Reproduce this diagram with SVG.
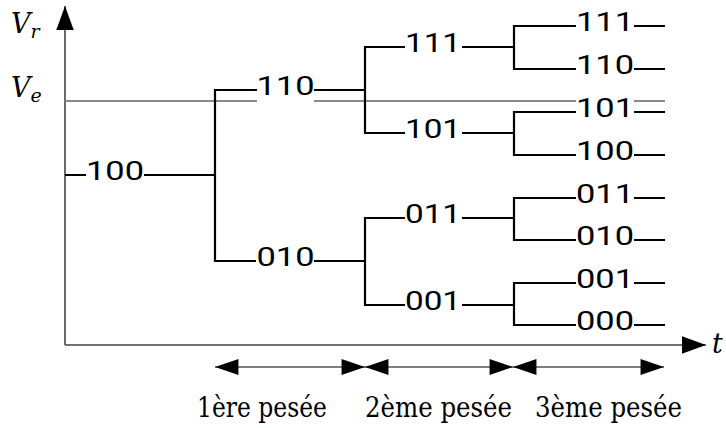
<svg xmlns="http://www.w3.org/2000/svg" width="726" height="428" viewBox="0 0 726 428">
<defs>
<marker id="ah" markerUnits="userSpaceOnUse" markerWidth="24" markerHeight="16" viewBox="0 0 22 15" refX="22" refY="7.5" orient="auto-start-reverse">
<path d="M0,0 L22,7.5 L0,15 z" fill="#000"/>
</marker>
<marker id="axh" markerUnits="userSpaceOnUse" markerWidth="24" markerHeight="18" viewBox="0 0 22 16" refX="22" refY="8" orient="auto">
<path d="M0,0 L22,8 L0,16 z" fill="#000"/>
</marker>
</defs>
<style>
.tree{fill:none;stroke:#000;stroke-width:2.2;stroke-linejoin:miter;stroke-linecap:butt}
.ve{fill:none;stroke:#8a8a8a;stroke-width:2.2}
.axis{fill:none;stroke:#444;stroke-width:1.6}
.dim{fill:none;stroke:#555;stroke-width:1.3}
text{fill:#000}
.d{font-family:Roboto,'Noto Sans','DejaVu Sans',sans-serif;font-size:26px;text-anchor:middle}
.v{font-family:'DejaVu Serif','Liberation Serif',serif;font-style:italic;font-size:27px}
.c{font-family:'DejaVu Serif','Liberation Serif',serif;font-size:27px;text-anchor:middle}
</style>
<rect width="726" height="428" fill="#fff"/>
<g id="axes">
<line class="axis" x1="65" y1="345" x2="65" y2="6" marker-end="url(#axh)"/>
<line class="axis" x1="65" y1="345" x2="706" y2="345" marker-end="url(#axh)"/>
<text class="v" x="11" y="33">V<tspan font-size="19" dy="5">r</tspan></text>
<text class="v" x="11" y="97">V<tspan font-size="19" dy="5">e</tspan></text>
<text class="v" x="712" y="353">t</text>
</g>
<g id="ve-line">
<path class="ve" d="M65,101 H257 M314,101 H576 M634,101 H665"/>
</g>
<g id="connectors">
<path class="tree" d="M65,175 H86 M144,175 H215"/>
<path class="tree" d="M257,90 H215 V261 H256"/>
<path class="tree" d="M314,90 H365 M314,261 H365"/>
<path class="tree" d="M405,47 H365 V133 H405"/>
<path class="tree" d="M405,218 H365 V305 H405"/>
<path class="tree" d="M462,47 H514 M462,133 H514 M462,218 H514 M462,305 H514"/>
<path class="tree" d="M576,26 H514 V69 H576"/>
<path class="tree" d="M576,112 H514 V155 H576"/>
<path class="tree" d="M576,198 H514 V240 H576"/>
<path class="tree" d="M576,283 H514 V325 H576"/>
<path class="tree" d="M634,26 H665 M634,69 H665 M634,112 H665 M634,155 H665 M634,198 H665 M634,240 H665 M634,283 H665 M634,325 H665"/>
<line class="dim" x1="215" y1="367" x2="365" y2="367" marker-start="url(#ah)" marker-end="url(#ah)"/>
<line class="dim" x1="365" y1="367" x2="513" y2="367" marker-start="url(#ah)" marker-end="url(#ah)"/>
<line class="dim" x1="513" y1="367" x2="664" y2="367" marker-start="url(#ah)" marker-end="url(#ah)"/>
</g>
<g id="n100"><text class="d" x="115" y="180" textLength="58" lengthAdjust="spacingAndGlyphs">100</text></g>
<g id="n110"><text class="d" x="285.5" y="95" textLength="58" lengthAdjust="spacingAndGlyphs">110</text></g>
<g id="n010"><text class="d" x="285.5" y="266" textLength="58" lengthAdjust="spacingAndGlyphs">010</text></g>
<g id="n111a"><text class="d" x="433" y="52" textLength="56" lengthAdjust="spacingAndGlyphs">111</text></g>
<g id="n101a"><text class="d" x="433" y="138" textLength="56" lengthAdjust="spacingAndGlyphs">101</text></g>
<g id="n011a"><text class="d" x="433" y="223" textLength="56" lengthAdjust="spacingAndGlyphs">011</text></g>
<g id="n001a"><text class="d" x="433" y="310" textLength="56" lengthAdjust="spacingAndGlyphs">001</text></g>
<g id="n111"><text class="d" x="605" y="31" textLength="58" lengthAdjust="spacingAndGlyphs">111</text></g>
<g id="n110b"><text class="d" x="605" y="74" textLength="58" lengthAdjust="spacingAndGlyphs">110</text></g>
<g id="n101"><text class="d" x="605" y="117" textLength="58" lengthAdjust="spacingAndGlyphs">101</text></g>
<g id="n100b"><text class="d" x="605" y="160" textLength="58" lengthAdjust="spacingAndGlyphs">100</text></g>
<g id="n011"><text class="d" x="605" y="203" textLength="58" lengthAdjust="spacingAndGlyphs">011</text></g>
<g id="n010b"><text class="d" x="605" y="245" textLength="58" lengthAdjust="spacingAndGlyphs">010</text></g>
<g id="n001"><text class="d" x="605" y="288" textLength="58" lengthAdjust="spacingAndGlyphs">001</text></g>
<g id="n000"><text class="d" x="605" y="330" textLength="58" lengthAdjust="spacingAndGlyphs">000</text></g>
<g id="captions">
<text class="c" x="262" y="417" textLength="130" lengthAdjust="spacingAndGlyphs">1ère pesée</text>
<text class="c" x="438.5" y="417" textLength="147" lengthAdjust="spacingAndGlyphs">2ème pesée</text>
<text class="c" x="608.5" y="417" textLength="147" lengthAdjust="spacingAndGlyphs">3ème pesée</text>
</g>
</svg>
